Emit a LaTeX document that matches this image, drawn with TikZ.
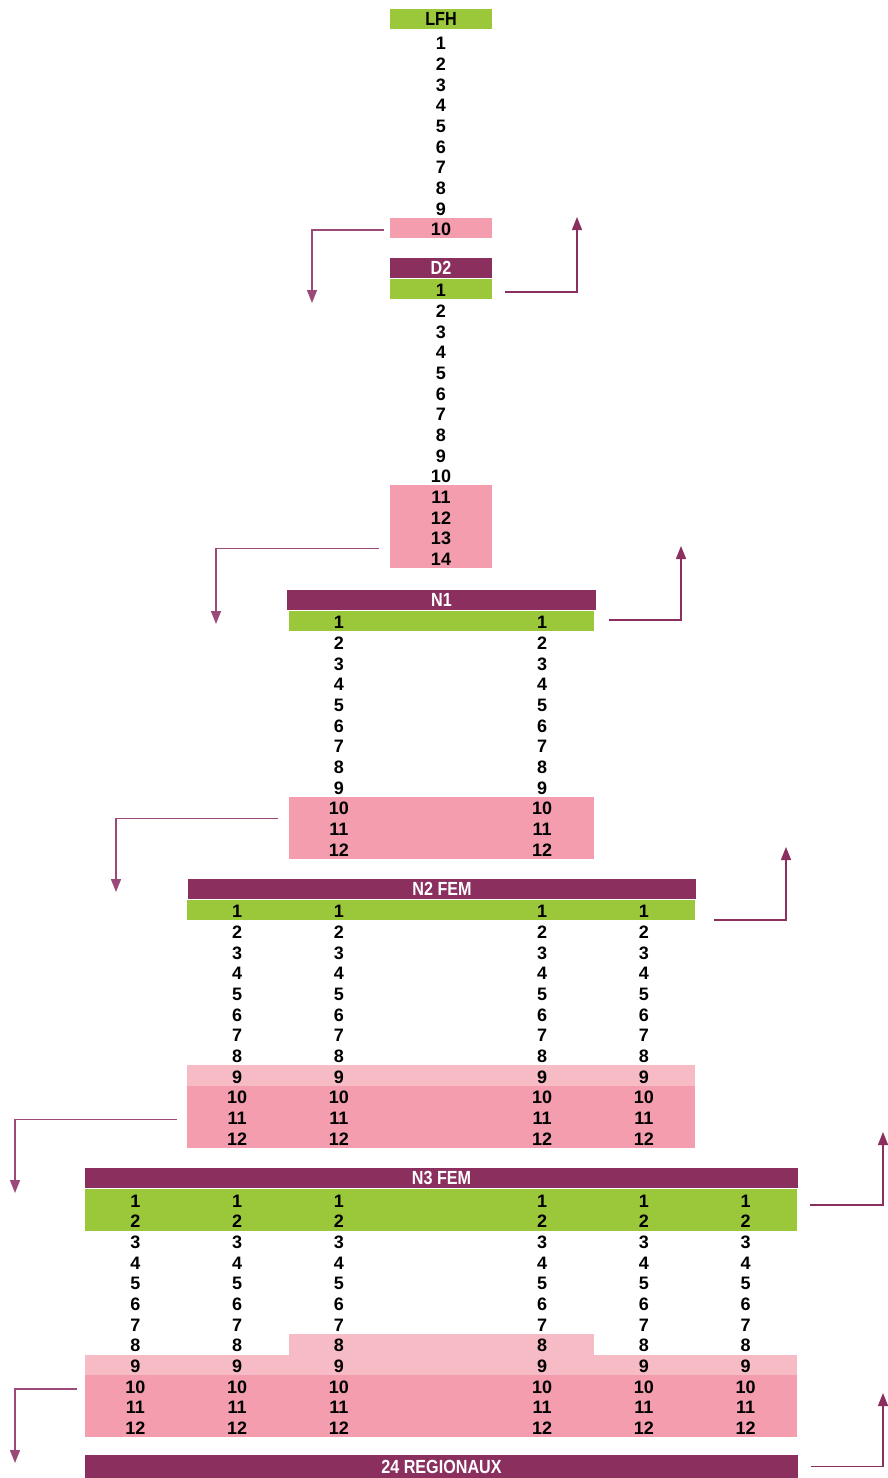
\documentclass[tikz,border=0pt]{standalone}
\usepackage{fontspec}
\setmainfont{Liberation Sans}
\newfontfamily\headfont{Liberation Sans}[FakeStretch=0.85]
\usepackage{tikz}
\usetikzlibrary{arrows.meta}
\definecolor{lgreen}{HTML}{9BC83B}
\definecolor{plum}{HTML}{8A2F5E}
\definecolor{plumlight}{HTML}{9A4A78}
\definecolor{rosa}{HTML}{F39DAE}
\definecolor{lrosa}{HTML}{F7BBC6}
\newcommand{\pitch}{20.67}
\newcommand{\colw}{101.7}
\newcommand{\headnode}{\node[headbox]}
\newcommand{\bandnode}{\node[band]}
\newcommand{\numnode}{\node[num]}
\tikzset{
  headbox/.style={rectangle,inner sep=0,minimum height=20,fill=plum,text=white,
    font=\headfont\bfseries\fontsize{19}{19}\selectfont},
  band/.style={rectangle,inner sep=0,minimum height=\pitch},
  num/.style={inner sep=0,yshift=-1.5pt,font=\bfseries\fontsize{18}{18}\selectfont},
  down/.style={draw=plumlight,line width=1.5pt,-{Triangle[length=13pt,width=10pt]}},
  up/.style={draw=plum,line width=1.5pt,-{Triangle[length=13pt,width=10pt]}}
}

\begin{document}
\begin{tikzpicture}[x=1pt,y=-1pt]
  \useasboundingbox (0,0) rectangle (888,1478);
  % LFH
  \headnode[fill=lgreen,text=black,minimum width=102] (lfh) at (441,19) {LFH};
  \bandnode[fill=rosa,minimum width=102] (lfhout) at (441,228) {};
  \foreach \k in {1,...,10}
    \numnode (lfh-\k) at (441,{42+(\k-1)*\pitch}) {\k};
  % D2
  \headnode[minimum width=102] (d2) at (441,268) {D2};
  \bandnode[fill=lgreen,minimum width=102] (d2up) at (441,289) {};
  \bandnode[fill=rosa,minimum width=102,minimum height=4*\pitch] (d2out) at (441,{289+11.5*\pitch}) {};
  \foreach \k in {1,...,14}
    \numnode (d2-\k) at (441,{289+(\k-1)*\pitch}) {\k};
  % N1
  \headnode[minimum width=309] (n1) at (441.5,600) {N1};
  \bandnode[fill=lgreen,minimum width=305] (n1up) at (441.5,621) {};
  \bandnode[fill=rosa,minimum width=305,minimum height=3*\pitch] (n1out) at (441.5,{621+10*\pitch}) {};
  \foreach \c in {-1,1}
    \foreach \k in {1,...,12}
      \numnode (n1-\c-\k) at ({440.5+\c*\colw},{621+(\k-1)*\pitch}) {\k};
  % N2 FEM
  \headnode[minimum width=508] (n2) at (442,889) {N2 FEM};
  \bandnode[fill=lgreen,minimum width=508] (n2up) at (441,910) {};
  \bandnode[fill=lrosa,minimum width=508] (n2mid) at (441,{910+8*\pitch}) {};
  \bandnode[fill=rosa,minimum width=508,minimum height=3*\pitch] (n2out) at (441,{910+10*\pitch}) {};
  \foreach \c in {-2,-1,1,2}
    \foreach \k in {1,...,12}
      \numnode (n2-\c-\k) at ({440.5+\c*\colw},{910+(\k-1)*\pitch}) {\k};
  % N3 FEM
  \headnode[minimum width=713] (n3) at (441.5,1178) {N3 FEM};
  \bandnode[fill=lgreen,minimum width=712,minimum height=2*\pitch] (n3up) at (441,{1199.5+0.5*\pitch}) {};
  \bandnode[fill=lrosa,minimum width=305] (n3mid) at (441.5,{1199.5+7*\pitch}) {};
  \bandnode[fill=lrosa,minimum width=712] (n3nine) at (441,{1199.5+8*\pitch}) {};
  \bandnode[fill=rosa,minimum width=712,minimum height=3*\pitch] (n3out) at (441,{1199.5+10*\pitch}) {};
  \foreach \c in {-3,-2,-1,1,2,3}
    \foreach \k in {1,...,12}
      \numnode (n3-\c-\k) at ({440.5+\c*\colw},{1199.5+(\k-1)*\pitch}) {\k};
  % 24 REGIONAUX
  \headnode[minimum width=713,minimum height=23] (reg) at (441.5,1466.5) {24 REGIONAUX};
  % arrows
  \coordinate (lfhdrop) at (312,303);
  \coordinate (d2rise) at (577,217);
  \coordinate (d2drop) at (216,624);
  \coordinate (n1rise) at (681,546);
  \coordinate (n1drop) at (116,892);
  \coordinate (n2rise) at (786,847);
  \coordinate (n2drop) at (15,1193);
  \coordinate (n3rise) at (883,1132);
  \coordinate (n3drop) at (15,1463);
  \coordinate (regrise) at (883,1393);
  \draw[down] ([xshift=-6,yshift=-2]lfhout.west) -| (lfhdrop);
  \draw[up] ([xshift=13,yshift=-3]d2up.east) -| (d2rise);
  \draw[down] ([xshift=-11,yshift=-22]d2out.west) -| (d2drop);
  \draw[up] ([xshift=15,yshift=1]n1up.east) -| (n1rise);
  \draw[down] ([xshift=-11,yshift=9]n1out.west) -| (n1drop);
  \draw[up] ([xshift=19,yshift=-10]n2up.east) -| (n2rise);
  \draw[down] ([xshift=-10,yshift=-3]n2out.west) -| (n2drop);
  \draw[up] ([xshift=13,yshift=5]n3up.east) -| (n3rise);
  \draw[down] ([xshift=-8,yshift=17]n3out.west) -| (n3drop);
  \draw[up] ([xshift=13]reg.east) -| (regrise);
\end{tikzpicture}
\end{document}
